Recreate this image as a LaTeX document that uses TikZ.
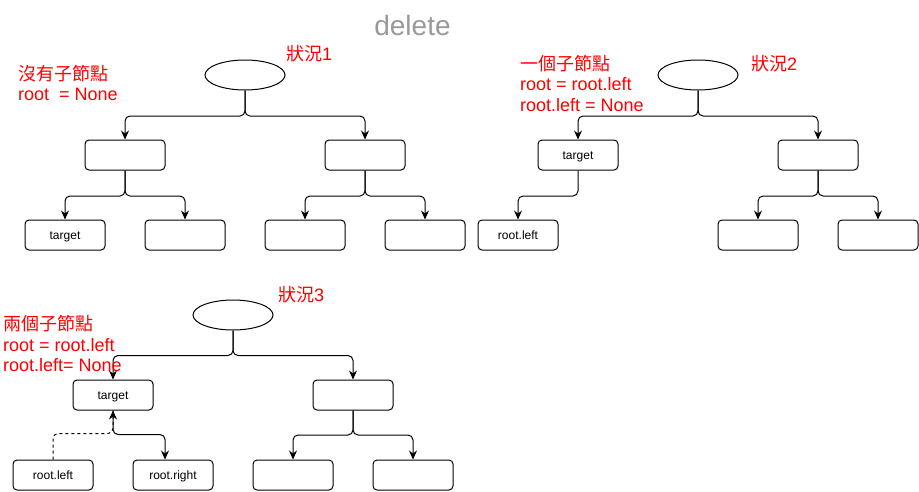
\documentclass[tikz,border=0pt]{standalone}
\usepackage{fontspec}
\setmainfont{Liberation Sans}
\newfontfamily\cjk{Noto Sans CJK TC}
\usetikzlibrary{arrows.meta,shapes.geometric}
\definecolor{delgray}{RGB}{153,153,153}
\tikzset{
  tbox/.style={draw, line width=1pt, rounded corners=4pt, minimum width=80pt, minimum height=30pt, inner sep=0pt, text height=10pt, text depth=1.5pt, font=\fontsize{12}{14}\selectfont},
  oval/.style={draw, ellipse, line width=1pt, minimum width=80pt, minimum height=30pt, inner sep=0pt},
  edge/.style={line width=1pt, rounded corners=5pt, -{Stealth[length=9pt,width=8pt,inset=3pt]}},
  redtxt/.style={text=red, font=\fontsize{18}{21}\selectfont, anchor=base west, inner sep=0pt},
}
\begin{document}
\begin{tikzpicture}[x=1pt,y=-1pt]
\useasboundingbox (0,0) rectangle (919,491);
% title
\node[text=delgray, font=\fontsize{28}{32}\selectfont, anchor=base, inner sep=0pt] (title) at (412.5,35) {delete};

% ---------- tree 1 ----------
\node[oval] (e1) at (245,75) {};
\node[tbox] (a1) at (125,155) {};
\node[tbox] (b1) at (365,155) {};
\node[tbox] (a1l) at (65,235) {target};
\node[tbox] (a1r) at (185,235) {};
\node[tbox] (b1l) at (305,235) {};
\node[tbox] (b1r) at (425,235) {};
\draw[edge] (e1.south) -- ++(0,25.5) -| (a1.north);
\draw[edge] (e1.south) -- ++(0,25.5) -| (b1.north);
\draw[edge] (a1.south) -- ++(0,25.5) -| (a1l.north);
\draw[edge] (a1.south) -- ++(0,25.5) -| (a1r.north);
\draw[edge] (b1.south) -- ++(0,25.5) -| (b1l.north);
\draw[edge] (b1.south) -- ++(0,25.5) -| (b1r.north);
\node[redtxt] (s1) at (286,60) {{\cjk 狀況}1};
\node[redtxt] (t1a) at (18,80) {\cjk 沒有子節點};
\node[redtxt] (t1b) at (18,100.5) {root\ \ = None};

% ---------- tree 2 ----------
\node[oval] (e2) at (698,75) {};
\node[tbox] (a2) at (578,155) {target};
\node[tbox] (b2) at (818,155) {};
\node[tbox] (a2l) at (518,235) {root.left};
\node[tbox] (b2l) at (758,235) {};
\node[tbox] (b2r) at (878,235) {};
\draw[edge] (e2.south) -- ++(0,25.5) -| (a2.north);
\draw[edge] (e2.south) -- ++(0,25.5) -| (b2.north);
\draw[edge] (a2.south) -- ++(0,25.5) -| (a2l.north);
\draw[edge] (b2.south) -- ++(0,25.5) -| (b2l.north);
\draw[edge] (b2.south) -- ++(0,25.5) -| (b2r.north);
\node[redtxt] (s2) at (751,70.5) {{\cjk 狀況}2};
\node[redtxt] (t2a) at (520,70) {\cjk 一個子節點};
\node[redtxt] (t2b) at (520,90.5) {root = root.left};
\node[redtxt] (t2c) at (520,111.5) {root.left = None};

% ---------- tree 3 ----------
\node[oval] (e3) at (233,315) {};
\node[tbox] (a3) at (113,395) {target};
\node[tbox] (b3) at (353,395) {};
\node[tbox] (a3l) at (53,475) {root.left};
\node[tbox] (a3r) at (173,475) {root.right};
\node[tbox] (b3l) at (293,475) {};
\node[tbox] (b3r) at (413,475) {};
\draw[edge] (e3.south) -- ++(0,25) -| (a3.north);
\draw[edge] (e3.south) -- ++(0,25) -| (b3.north);
\draw[edge] (a3.south) -- ++(0,24) -| ([xshift=-8pt]a3r.north);
\draw[edge,dashed] (a3l.north) -- ++(0,-26) -| (a3.south);
\draw[edge] (b3.south) -- ++(0,24.5) -| (b3l.north);
\draw[edge] (b3.south) -- ++(0,24.5) -| (b3r.north);
\node[redtxt] (s3) at (278,301) {{\cjk 狀況}3};
\node[redtxt] (t3a) at (3,330) {\cjk 兩個子節點};
\node[redtxt] (t3b) at (3,351) {root = root.left};
\node[redtxt] (t3c) at (3,371.5) {root.left= None};
\end{tikzpicture}
\end{document}
